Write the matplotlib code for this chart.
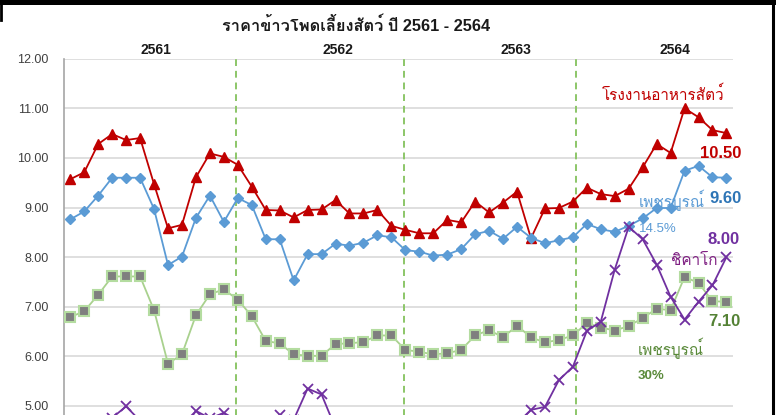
import matplotlib
matplotlib.use("Agg")
import matplotlib.pyplot as plt
from matplotlib import font_manager
from matplotlib.ft2font import FT2Font

# ---------------- data ----------------
months = list(range(48))
factory = [9.57, 9.71, 10.28, 10.48, 10.36, 10.40, 9.47, 8.58, 8.65, 9.61,
           10.09, 10.02, 9.86, 9.42, 8.95, 8.94, 8.80, 8.95, 8.96, 9.15,
           8.88, 8.88, 8.95, 8.63, 8.55, 8.48, 8.48, 8.75, 8.70, 9.12,
           8.90, 9.10, 9.32, 8.38, 8.98, 8.99, 9.12, 9.40, 9.27, 9.23,
           9.38, 9.81, 10.28, 10.10, 11.00, 10.82, 10.56, 10.50]
phet145 = [8.76, 8.92, 9.24, 9.60, 9.60, 9.60, 8.97, 7.84, 8.01, 8.79,
           9.24, 8.71, 9.19, 9.05, 8.36, 8.36, 7.53, 8.06, 8.06, 8.27,
           8.23, 8.29, 8.44, 8.40, 8.14, 8.11, 8.03, 8.05, 8.16, 8.46,
           8.53, 8.37, 8.61, 8.39, 8.28, 8.34, 8.40, 8.67, 8.56, 8.51,
           8.63, 8.78, 8.99, 8.99, 9.74, 9.84, 9.61, 9.60]
phet30 = [6.79, 6.91, 7.24, 7.61, 7.61, 7.61, 6.93, 5.85, 6.04, 6.83,
          7.25, 7.35, 7.14, 6.81, 6.31, 6.26, 6.04, 6.01, 6.01, 6.25,
          6.26, 6.29, 6.42, 6.42, 6.13, 6.09, 6.04, 6.06, 6.13, 6.42,
          6.53, 6.38, 6.62, 6.38, 6.28, 6.33, 6.42, 6.67, 6.58, 6.52,
          6.61, 6.77, 6.96, 6.93, 7.60, 7.48, 7.11, 7.10]
chicago = [4.50, 4.55, 4.60, 4.76, 4.99, 4.70, 4.45, 4.35, 4.50, 4.90,
           4.75, 4.86, 4.70, 4.62, 4.58, 4.82, 4.72, 5.35, 5.23, 4.55,
           4.40, 4.45, 4.50, 4.45, 4.40, 4.10, 3.90, 3.85, 3.90, 3.85,
           4.10, 4.40, 4.65, 4.92, 4.98, 5.52, 5.79, 6.51, 6.70, 7.75,
           8.61, 8.36, 7.85, 7.20, 6.74, 7.10, 7.43, 8.00]
year_labels = ["2561", "2562", "2563", "2564"]
year_label_x = [6.1, 19.2, 31.9, 43.3]
year_dividers = [11.9, 23.93, 36.22]
yticks = [5, 6, 7, 8, 9, 10, 11, 12]
title = "ราคาข้าวโพดเลี้ยงสัตว์ ปี 2561 - 2564"

# ---------------- fonts ----------------
thai = None
for fe in font_manager.fontManager.ttflist:
    try:
        cm = FT2Font(fe.fname).get_charmap()
        if 0x0E01 in cm and 0x0E4C in cm:
            thai = fe.name
            break
    except Exception:
        pass
fam = ["Liberation Sans"] + ([thai] if thai else []) + ["DejaVu Sans"]
plt.rcParams["font.family"] = fam

W, H = 776, 415
fig = plt.figure(figsize=(W / 100, H / 100), dpi=100)

# axes placement in pixels
x_left, x_right = 64, 733
y12, y4 = 58.7, 58.7 + 8 * 49.6
ax = fig.add_axes([x_left / W, 1 - y4 / H, (x_right - x_left) / W, (y4 - y12) / H])
ax.set_xlim(-0.45, 47.47)
ax.set_ylim(4.0, 12.0)

ax.set_yticks(yticks)
ax.set_yticklabels([f"{v:.2f}" for v in yticks], fontsize=9, color="#404040")
ax.tick_params(axis="y", length=0, pad=11)
ax.set_xticks([])
for s in ["top", "right", "bottom"]:
    ax.spines[s].set_visible(False)
ax.spines["left"].set_color("#a6a6a6")
ax.spines["left"].set_linewidth(1.2)
ax.grid(axis="y", color="#d9d9d9", linewidth=1.2)
ax.set_axisbelow(True)

for xd in year_dividers:
    ax.axvline(xd, color="#8cc668", linestyle=(0, (3.5, 2.5)), linewidth=1.4, zorder=1)

ax.plot(months, factory, color="#c00000", linewidth=1.3, marker="^",
        markersize=7.5, zorder=3)
ax.plot(months, phet145, color="#5b9bd5", linewidth=1.3, marker="D",
        markersize=5.5, zorder=3)
ax.plot(months, phet30, color="#a9d18e", linewidth=1.3, marker="s",
        markersize=6.5, markerfacecolor="#7f7f7f", markeredgecolor="#b4dca0",
        markeredgewidth=1.5, zorder=3)
ax.plot(months, chicago, color="#7030a0", linewidth=1.3, marker="x",
        markersize=7, markeredgewidth=1.3, zorder=4)

def ftxt(x, y, s, **kw):
    fig.text(x / W, 1 - y / H, s, va="center", **kw)

ftxt(356, 25, title, ha="center", fontsize=11.8, fontweight="bold", color="#1a1a1a")
for lab, xv in zip(year_labels, year_label_x):
    ftxt(70.3 + 13.96 * xv, 50, lab, ha="center", fontsize=10, fontweight="bold", color="#1a1a1a")

ftxt(602, 94, "โรงงานอาหารสัตว์", ha="left", fontsize=11, color="#c00000")
ftxt(700, 153, "10.50", ha="left", fontsize=12, fontweight="bold", color="#c00000")
ftxt(639, 200, "เพชรบูรณ์", ha="left", fontsize=11, color="#5b9bd5")
ftxt(639, 229, "14.5%", ha="left", fontsize=9.5, color="#5b9bd5")
ftxt(709, 198, "9.60", ha="left", fontsize=12, fontweight="bold", color="#2e75b6")
ftxt(708, 239, "8.00", ha="left", fontsize=12, fontweight="bold", color="#7030a0")
ftxt(671, 261, "ชิคาโก", ha="left", fontsize=11, color="#7f1f82")
ftxt(708, 322, "7.10", ha="left", fontsize=12, fontweight="bold", color="#548235")
ftxt(638, 348, "เพชรบูรณ์", ha="left", fontsize=11, color="#5a8a3a")
ftxt(638, 376, "30%", ha="left", fontsize=9.5, fontweight="bold", color="#5a8a3a")

# frame remnants
fig.add_artist(plt.Line2D([0, 1], [1 - 2.5 / H, 1 - 2.5 / H], color="black", linewidth=3.6))
fig.add_artist(plt.Line2D([772.5 / W, 772.5 / W], [0, 1], color="black", linewidth=2.2))
fig.add_artist(plt.Line2D([1.2 / W, 1.2 / W], [1, 1 - 20 / H], color="black", linewidth=2.0))

fig.savefig("out.png", dpi=100)
